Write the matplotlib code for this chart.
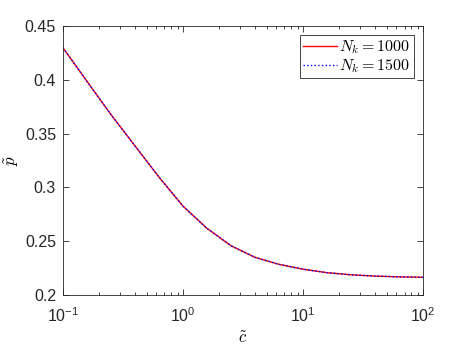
import matplotlib
matplotlib.use("Agg")
import matplotlib.pyplot as plt
import numpy as np
from matplotlib.ticker import FuncFormatter, LogLocator

plt.rcParams['font.family'] = ['Liberation Sans', 'DejaVu Sans']

# Donnees
c_tilde = [0.1, 0.158, 0.251, 0.398, 0.631, 1.0, 1.58, 2.51, 3.98, 6.31,
           10.0, 15.8, 25.1, 39.8, 63.1, 100.0]
p_1000 = [0.4296, 0.3986, 0.3676, 0.3385, 0.3095, 0.2825, 0.2620, 0.2458,
          0.2350, 0.2285, 0.2240, 0.2208, 0.2188, 0.2176, 0.2169, 0.2165]
p_1500 = [0.4296, 0.3986, 0.3676, 0.3385, 0.3095, 0.2825, 0.2620, 0.2458,
          0.2350, 0.2285, 0.2240, 0.2208, 0.2188, 0.2176, 0.2169, 0.2165]
y_ticks = [0.2, 0.25, 0.3, 0.35, 0.4, 0.45]

fig = plt.figure(figsize=(4.67, 3.5), dpi=100)
ax = fig.add_axes([0.135, 0.157, 0.771, 0.769])

ax.plot(c_tilde, p_1000, '-', color='red', lw=1.0, label=r'$N_k = 1000$')
ax.plot(c_tilde, p_1500, ':', color='blue', lw=1.0, label=r'$N_k = 1500$')

ax.set_xscale('log')
ax.set_xlim(0.1, 100)
ax.set_ylim(0.2, 0.45)
ax.set_yticks(y_ticks)
ax.yaxis.set_major_formatter(FuncFormatter(lambda v, p: '%g' % v))
ax.xaxis.set_minor_locator(LogLocator(base=10, subs=np.arange(2, 10)))

ax.tick_params(which='both', direction='in', top=True, right=True,
               colors='#262626', labelsize=11.5, width=0.6)
ax.tick_params(which='major', length=4)
ax.tick_params(which='minor', length=2.5)
ax.tick_params(axis='y', pad=5)
ax.tick_params(axis='x', pad=8)
for s in ax.spines.values():
    s.set_color('#262626')
    s.set_linewidth(0.6)

ax.set_xlabel(r'$\tilde{c}$', fontsize=12, math_fontfamily='cm', labelpad=4)
ax.set_ylabel(r'$\tilde{p}$', fontsize=12, math_fontfamily='cm')
ax.yaxis.set_label_coords(-0.117, 0.5)

leg = ax.legend(loc='upper right', fontsize=11.5, fancybox=False, framealpha=1,
                edgecolor='#262626', handlelength=2.1, handletextpad=0.15,
                borderpad=0.2, labelspacing=0.05, borderaxespad=0.6)
leg.get_frame().set_linewidth(0.6)
for t in leg.get_texts():
    t.set_math_fontfamily('cm')

fig.savefig('out.png', dpi=100)
